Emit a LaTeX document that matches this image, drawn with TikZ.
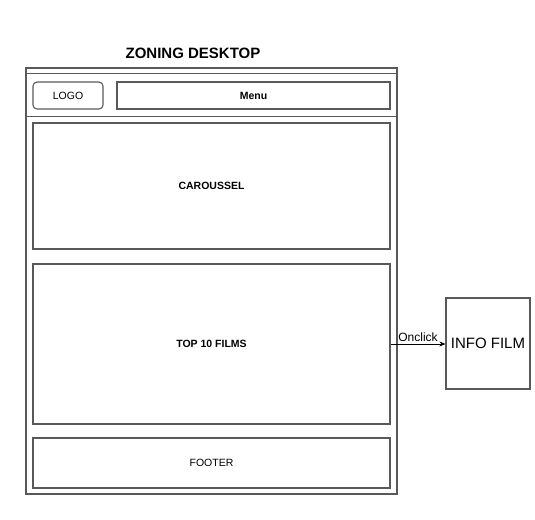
\documentclass[tikz,border=0pt]{standalone}
\usepackage{fontspec}
\setmainfont{Liberation Sans}
\usetikzlibrary{arrows.meta}
\begin{document}
\begin{tikzpicture}[x=1pt,y=-1pt,
  zone/.style={draw=black!65,line width=1.1pt,inner sep=0pt},
  lbl/.style={font=\fontsize{10.5}{12}\selectfont},
  blbl/.style={font=\fontsize{10.5}{12}\selectfont\bfseries},
]
\useasboundingbox (0,0) rectangle (535,519);
% title
\node[font=\fontsize{15}{17}\selectfont\bfseries] (title) at (193,53) {ZONING DESKTOP};
% page frame
\node[zone,minimum width=371pt,minimum height=426pt] (page) at (211.5,281) {};
\draw[draw=black!65,line width=1.1pt] (page.north west |- 0,73.5) -- (page.north east |- 0,73.5);
\draw[draw=black!65,line width=1.1pt] (page.north west |- 0,116.5) -- (page.north east |- 0,116.5);
% header
\node[zone,rounded corners=4pt,minimum width=70pt,minimum height=27pt,lbl] (logo) at (68,95.5) {LOGO};
\node[zone,minimum width=273pt,minimum height=27pt,blbl] (menu) at (253.5,95.5) {Menu};
% content zones
\node[zone,minimum width=357pt,minimum height=126pt,blbl] (carousel) at (211.5,186) {CAROUSSEL};
\node[zone,minimum width=357pt,minimum height=160pt,blbl] (top) at (211.5,344) {TOP 10 FILMS};
\node[zone,minimum width=357pt,minimum height=50pt,lbl] (footer) at (211.5,463) {FOOTER};
% detail page
\node[zone,minimum width=84pt,minimum height=91pt,font=\fontsize{15}{17}\selectfont] (info) at (488,343.5) {INFO FILM};
\draw[-{Stealth[length=6pt,width=5pt]},line width=0.8pt] (top.east) -- node[above,font=\fontsize{12}{14}\selectfont,inner sep=1.5pt] {Onclick} (info.west |- top.east);
\end{tikzpicture}
\end{document}
